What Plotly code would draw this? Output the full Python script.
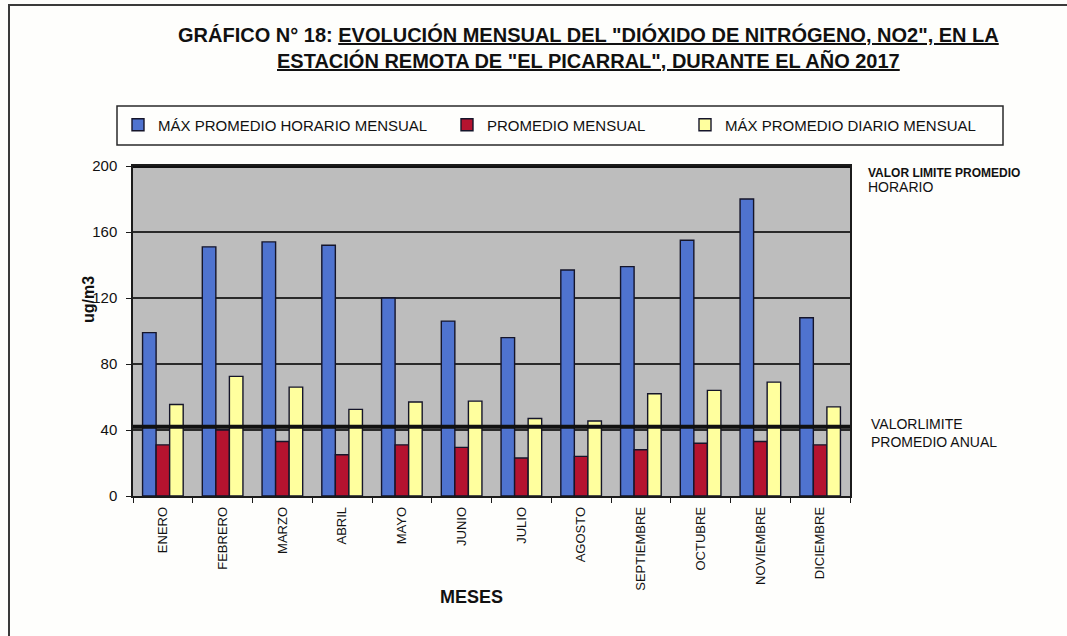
import plotly.graph_objects as go

# Monthly NO2 values (ug/m3), station "El Picarral", 2017
months = ["ENERO", "FEBRERO", "MARZO", "ABRIL", "MAYO", "JUNIO", "JULIO",
          "AGOSTO", "SEPTIEMBRE", "OCTUBRE", "NOVIEMBRE", "DICIEMBRE"]
max_hourly = [99, 151, 154, 152, 120, 106, 96, 137, 139, 155, 180, 108]
monthly_mean = [31, 40, 33, 25, 31, 29.5, 23, 24, 28, 32, 33, 31]
max_daily = [55.5, 72.5, 66, 52.5, 57, 57.5, 47, 45.5, 62, 64, 69, 54]

series_names = ["MÁX PROMEDIO HORARIO MENSUAL", "PROMEDIO MENSUAL",
                "MÁX PROMEDIO DIARIO MENSUAL"]
series_colors = ["#4f73cf", "#b5132f", "#ffff9e"]

# Limit values drawn as thick reference lines
limit_values = [200, 42]
y_ticks = [0, 40, 80, 120, 160, 200]

FONT = "Liberation Sans, Arial, sans-serif"
INK = "#1b1b1b"

fig = go.Figure()
legend_ids = ["legend", "legend2", "legend3"]
for vals, name, color, lg in zip([max_hourly, monthly_mean, max_daily],
                                 series_names, series_colors, legend_ids):
    fig.add_trace(go.Bar(
        x=months, y=vals, name=name, legend=lg,
        marker=dict(color=color, line=dict(color="#15152a", width=1.4)),
    ))

# Plot-area geometry helpers (pixels -> paper units)
L, R, T, B = 133, 850, 166, 496
W, H = 1067, 636
def px(x):
    return (x - L) / (R - L)
def py(y):
    return (B - y) / (B - T)

shapes = []
for v in limit_values:
    shapes.append(dict(type="line", xref="paper", yref="y", x0=0, x1=1,
                       y0=v, y1=v, line=dict(color="#111111", width=4)))
# legend frame
shapes.append(dict(type="rect", xref="paper", yref="paper",
                   x0=px(117), x1=px(1003), y0=py(145), y1=py(106),
                   line=dict(color="#2a2a2a", width=1.5)))
# outer page frame (top and left edges)
shapes.append(dict(type="path", xref="paper", yref="paper",
                   path=f"M {px(1075)},{py(5)} L {px(9)},{py(5)} L {px(9)},{py(645)}",
                   line=dict(color="#3a3a3a", width=2)))

annotations = [
    dict(text="GRÁFICO N° 18: <u>EVOLUCIÓN MENSUAL DEL \"DIÓXIDO DE NITRÓGENO, NO2\", EN LA</u>"
              "<br><u>ESTACIÓN REMOTA DE \"EL PICARRAL\", DURANTE EL AÑO 2017</u>",
         xref="paper", yref="paper", x=px(588), y=py(48), xanchor="center",
         yanchor="middle", align="center", showarrow=False,
         font=dict(family=FONT, size=20, color="#111111", weight="bold")),
    dict(text="ug/m3", xref="paper", yref="paper", x=px(88), y=py(300),
         textangle=-90, showarrow=False, xanchor="center", yanchor="middle",
         font=dict(family=FONT, size=16, color="#111111", weight="bold")),
    dict(text="MESES", xref="paper", yref="paper", x=px(471), y=py(597),
         showarrow=False, xanchor="center", yanchor="middle",
         font=dict(family=FONT, size=18, color="#111111", weight="bold")),
    dict(text="VALOR LIMITE PROMEDIO", xref="paper", yref="paper",
         x=px(866), y=py(173), showarrow=False, xanchor="left", yanchor="middle",
         font=dict(family=FONT, size=12, color="#111111", weight="bold")),
    dict(text="HORARIO", xref="paper", yref="paper",
         x=px(866), y=py(187), showarrow=False, xanchor="left", yanchor="middle",
         font=dict(family=FONT, size=14, color="#111111")),
    dict(text="VALORLIMITE<br>PROMEDIO ANUAL", xref="paper", yref="paper",
         x=px(869), y=py(433), showarrow=False, xanchor="left", yanchor="middle",
         align="left", font=dict(family=FONT, size=14, color="#111111")),
]

legend_common = dict(orientation="h", yanchor="middle", xanchor="left",
                     y=py(125), bgcolor="rgba(0,0,0,0)", borderwidth=0,
                     itemwidth=30,
                     font=dict(family=FONT, size=15, color="#111111"))

fig.update_layout(
    width=W, height=H,
    margin=dict(l=L, r=W - R, t=T, b=H - B),
    paper_bgcolor="#fefefc", plot_bgcolor="#bdbdbd",
    barmode="group", bargap=0.32, bargroupgap=0,
    showlegend=True,
    legend=dict(x=px(118), **legend_common),
    legend2=dict(x=px(447), **legend_common),
    legend3=dict(x=px(685), **legend_common),
    shapes=shapes, annotations=annotations,
    xaxis=dict(type="category", showline=True, linecolor=INK, linewidth=1.5,
               mirror=True, ticks="outside", tickson="boundaries", ticklen=5,
               tickcolor=INK, tickangle=-90, showgrid=False,
               ticklabelstandoff=4,
               tickfont=dict(family=FONT, size=13, color="#111111")),
    yaxis=dict(range=[0, 200], tickvals=y_ticks, showgrid=True,
               gridcolor="#2a2a2a", gridwidth=1.6, zeroline=False,
               showline=True, linecolor=INK, linewidth=1.5, mirror=True,
               ticks="outside", ticklen=5, tickcolor=INK,
               ticklabelstandoff=6,
               tickfont=dict(family=FONT, size=15, color="#111111")),
)

fig.write_html("out.html")
